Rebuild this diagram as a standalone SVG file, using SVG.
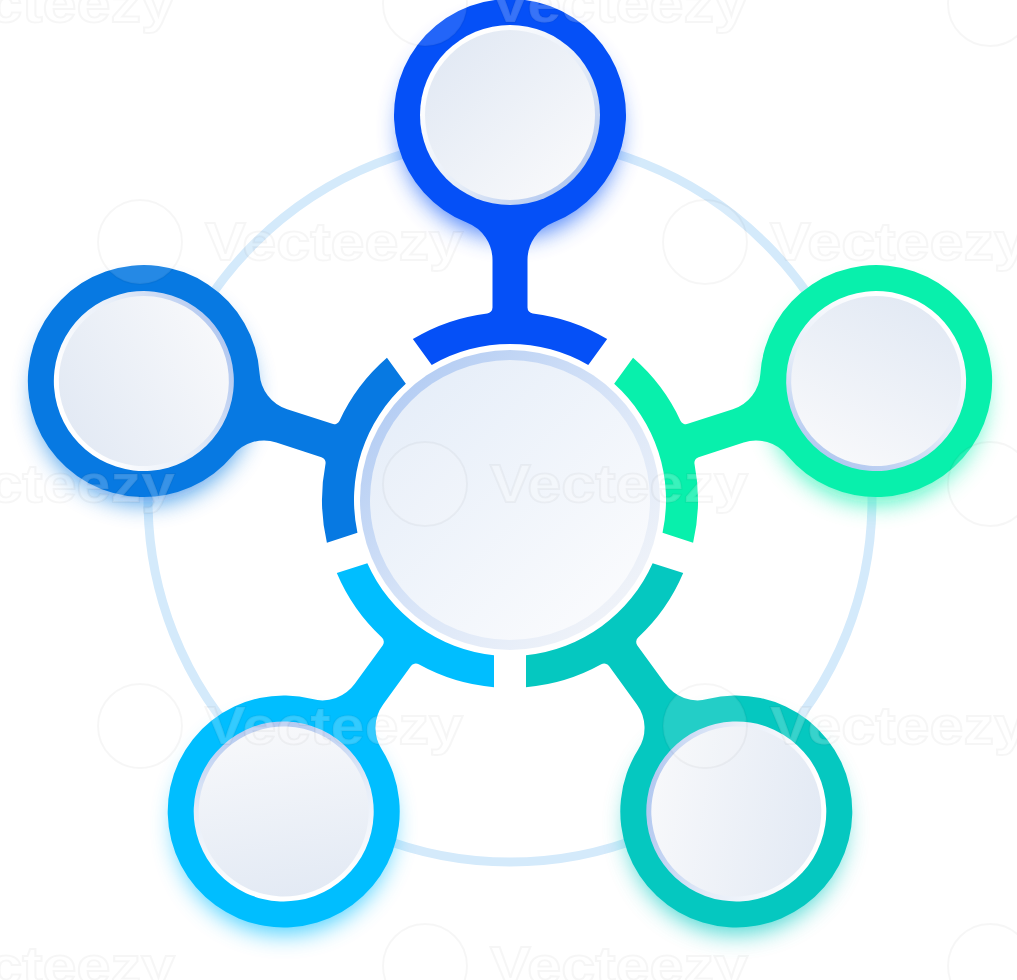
<svg xmlns="http://www.w3.org/2000/svg" xmlns:xlink="http://www.w3.org/1999/xlink" width="1017" height="980" viewBox="0 0 1017 980">
<style>
.wm{font-family:"Liberation Sans",Arial,sans-serif;font-weight:bold;font-size:54px;fill:#ffffff;fill-opacity:0.2;stroke:#000000;stroke-opacity:0.035;stroke-width:2}
.wmlogo{fill:#ffffff;fill-opacity:0.12;stroke:#000000;stroke-opacity:0.035;stroke-width:2}
.glow{filter:url(#blur);opacity:0.75}
</style>
<defs>
<filter id="blur" x="-50%" y="-50%" width="200%" height="200%"><feGaussianBlur stdDeviation="12"/></filter>
<linearGradient id="gFill" x1="0" y1="0" x2="1" y2="1">
<stop offset="0" stop-color="#dfe7f3"/><stop offset="1" stop-color="#fbfbfc"/>
</linearGradient>
<linearGradient id="gBorder" x1="0" y1="0" x2="1" y2="1">
<stop offset="0.2" stop-color="#ffffff"/><stop offset="0.55" stop-color="#e6edf8"/><stop offset="0.9" stop-color="#abc3ef"/>
</linearGradient>
<linearGradient id="cBorder" x1="0" y1="0" x2="1" y2="1">
<stop offset="0" stop-color="#a8c5f2"/><stop offset="0.55" stop-color="#dce7f8"/><stop offset="1" stop-color="#f8f8f9"/>
</linearGradient>
<linearGradient id="cFill" x1="0" y1="0" x2="1" y2="1">
<stop offset="0" stop-color="#e3ecf8"/><stop offset="1" stop-color="#fdfdfe"/>
</linearGradient>
<path id="petal" d="M -97.16,-160.95 A 188 188 0 0 1 -22.77,-186.61 A 6 6 0 0 0 -17.5,-192.57 L -17.5,-239.98 A 40 40 0 0 0 -42.76,-277.16 A 116 116 0 1 1 42.76,-277.16 A 40 40 0 0 0 17.5,-239.98 L 17.5,-192.57 A 6 6 0 0 0 22.77,-186.61 A 188 188 0 0 1 97.16,-160.95 L 78.27,-134.95 A 156 156 0 0 0 -78.27,-134.95 Z"/>
<g id="face">
<circle cx="0" cy="-385" r="90" fill="url(#gBorder)"/>
<circle cx="0" cy="-385" r="85" fill="url(#gFill)"/>
</g>
</defs>
<rect width="1017" height="980" fill="#ffffff"/>
<g id="connectors">
<circle cx="510" cy="500" r="362" fill="none" stroke="#d4eafb" stroke-width="9"/>
</g>
<g id="glows">
<circle class="glow" cx="510" cy="129" r="108" fill="#0550F7"/>
<circle class="glow" cx="876" cy="395" r="108" fill="#08F0AC"/>
<circle class="glow" cx="736" cy="825" r="108" fill="#05C8C0"/>
<circle class="glow" cx="284" cy="825" r="108" fill="#00BEFF"/>
<circle class="glow" cx="144" cy="395" r="108" fill="#0779E2"/>
</g>
<g id="node-top" transform="translate(510 500) rotate(0)">
<use xlink:href="#petal" href="#petal" fill="#0550F7"/>
<use xlink:href="#face" href="#face"/>
</g>
<g id="node-upper-right" transform="translate(510 500) rotate(72)">
<use xlink:href="#petal" href="#petal" fill="#08F0AC"/>
<use xlink:href="#face" href="#face"/>
</g>
<g id="node-lower-right" transform="translate(510 500) rotate(144)">
<use xlink:href="#petal" href="#petal" fill="#05C8C0"/>
<use xlink:href="#face" href="#face"/>
</g>
<g id="node-lower-left" transform="translate(510 500) rotate(216)">
<use xlink:href="#petal" href="#petal" fill="#00BEFF"/>
<use xlink:href="#face" href="#face"/>
</g>
<g id="node-upper-left" transform="translate(510 500) rotate(288)">
<use xlink:href="#petal" href="#petal" fill="#0779E2"/>
<use xlink:href="#face" href="#face"/>
</g>
<g id="node-center">
<circle cx="510" cy="500" r="150" fill="url(#cBorder)"/>
<circle cx="510" cy="500" r="140" fill="url(#cFill)"/>
</g>
<g id="watermarks">
<text class="wm" x="-83" y="22" textLength="258" lengthAdjust="spacingAndGlyphs">Vecteezy</text>
<circle class="wmlogo" cx="425" cy="4" r="42"/>
<text class="wm" x="490" y="22" textLength="258" lengthAdjust="spacingAndGlyphs">Vecteezy</text>
<circle class="wmlogo" cx="990" cy="4" r="42"/>
<circle class="wmlogo" cx="140" cy="242" r="42"/>
<text class="wm" x="205" y="260" textLength="258" lengthAdjust="spacingAndGlyphs">Vecteezy</text>
<circle class="wmlogo" cx="705" cy="242" r="42"/>
<text class="wm" x="770" y="260" textLength="258" lengthAdjust="spacingAndGlyphs">Vecteezy</text>
<text class="wm" x="-83" y="502" textLength="258" lengthAdjust="spacingAndGlyphs">Vecteezy</text>
<circle class="wmlogo" cx="425" cy="484" r="42"/>
<text class="wm" x="490" y="502" textLength="258" lengthAdjust="spacingAndGlyphs">Vecteezy</text>
<circle class="wmlogo" cx="990" cy="484" r="42"/>
<circle class="wmlogo" cx="140" cy="726" r="42"/>
<text class="wm" x="205" y="744" textLength="258" lengthAdjust="spacingAndGlyphs">Vecteezy</text>
<circle class="wmlogo" cx="705" cy="726" r="42"/>
<text class="wm" x="770" y="744" textLength="258" lengthAdjust="spacingAndGlyphs">Vecteezy</text>
<text class="wm" x="-83" y="984" textLength="258" lengthAdjust="spacingAndGlyphs">Vecteezy</text>
<circle class="wmlogo" cx="425" cy="966" r="42"/>
<text class="wm" x="490" y="984" textLength="258" lengthAdjust="spacingAndGlyphs">Vecteezy</text>
<circle class="wmlogo" cx="990" cy="966" r="42"/>
</g>
</svg>
